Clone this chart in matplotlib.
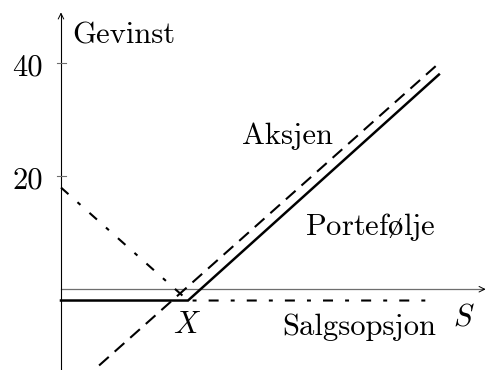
"""
Payoff diagram: protective put (aksje + salgsopsjon).
"""
import matplotlib
matplotlib.use('Agg')
import matplotlib.pyplot as plt

plt.rcParams['font.family'] = ['cmr10', 'DejaVu Serif']
plt.rcParams['mathtext.fontset'] = 'cm'

# strike and payoff lines (S, gevinst)
strike = 20
stock_s = [6, 59.5]
stock_y = [-13.5, 40]
put_s = [0, strike, 58.5]
put_y = [18, -2, -2]
port_s = [0, strike, 59.5]
port_y = [-2, -2, 38]
y_ticks = [20, 40]
y_ticklabels = ['20', '40']

fig = plt.figure(figsize=(4.91, 3.70), dpi=100)
ax = fig.add_axes([0, 0, 1, 1])
ax.set_xlim(-9.6, 67.7)
ax.set_ylim(-14.3, 51.2)
ax.axis('off')

axis_col = '#6e6e6e'
# axes with arrow heads
ax.plot([0, 66.5], [0, 0], color=axis_col, lw=0.9)
ax.annotate('', xy=(67.3, 0), xytext=(66, 0),
            arrowprops=dict(arrowstyle='->', color='black', lw=0.7))
ax.plot([0, 0], [-14.3, 48.5], color='black', lw=0.8)
ax.annotate('', xy=(0, 49.5), xytext=(0, 48),
            arrowprops=dict(arrowstyle='->', color='black', lw=0.7))
for t, lab in zip(y_ticks, y_ticklabels):
    ax.plot([-0.6, 0.8], [t, t], color=axis_col, lw=0.8)
    ax.text(-2.8, t - 2.1, lab, fontsize=22, ha='right', va='baseline')

# payoff lines
ax.plot(stock_s, stock_y, color='black', lw=1.5, linestyle=(0, (6.2, 3.8)))
ax.plot(put_s, put_y, color='black', lw=1.5, linestyle=(0, (4.8, 5.8, 1.9, 5.8)))
ax.plot(port_s, port_y, color='black', lw=1.8, solid_joinstyle='miter')

# labels
ax.text(1.7, 43.5, 'Gevinst', fontsize=22, ha='left', va='baseline')
ax.text(28.5, 25.7, 'Aksjen', fontsize=22, ha='left', va='baseline')
ax.text(38.4, 9.6, r'Portef$\mathrm{\o}$lje', fontsize=22, ha='left', va='baseline')
ax.text(34.8, -8.1, 'Salgsopsjon', fontsize=22, ha='left', va='baseline')
ax.text(61.7, -6.4, r'$S$', fontsize=22, ha='left', va='baseline')
ax.text(17.6, -7.8, r'$X$', fontsize=22, ha='left', va='baseline')

plt.savefig('out.png', dpi=100)
plt.close()
